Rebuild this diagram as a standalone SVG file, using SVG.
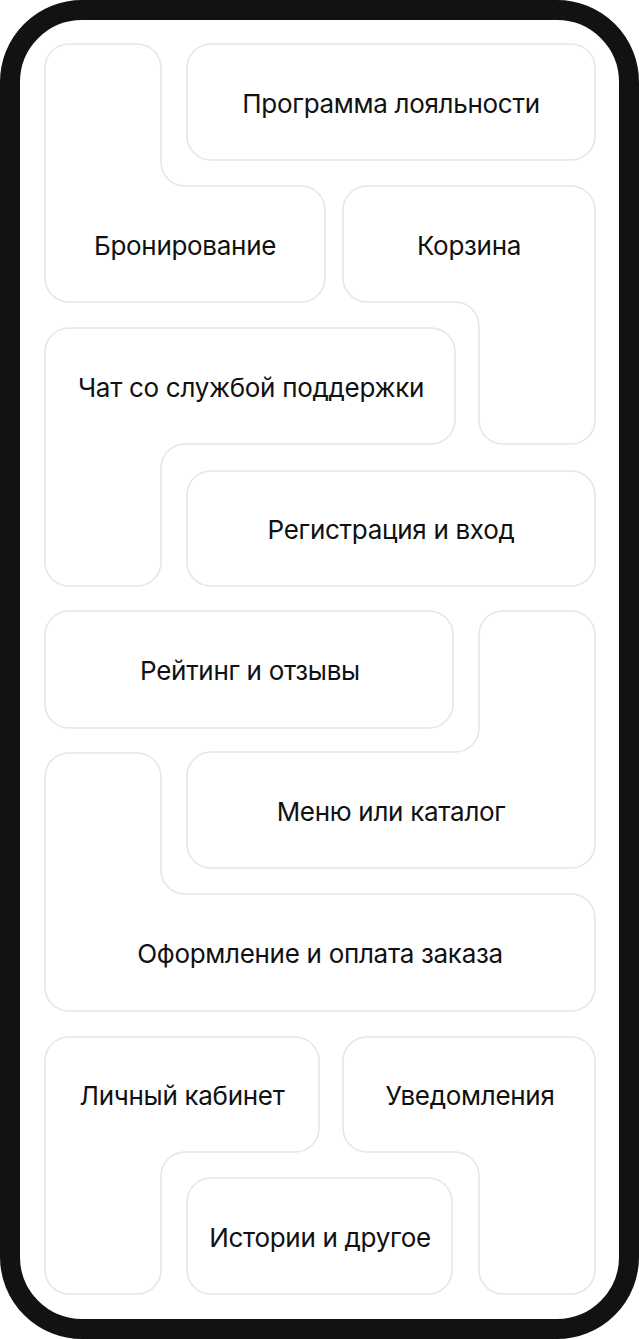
<svg xmlns="http://www.w3.org/2000/svg" width="639" height="1339" viewBox="0 0 639 1339">
<style>
.n{fill:#fff;stroke:#e3e7eb;stroke-width:1.6}
.t{font-family:Inter,"Noto Sans","Liberation Sans",sans-serif;font-size:26px;fill:#111;text-anchor:middle;letter-spacing:-0.3px}
</style>
<rect width="639" height="1339" fill="#fff"/>
<rect id="phone" x="10" y="10" width="619" height="1319" rx="72" fill="#fff" stroke="#121212" stroke-width="20"/>
<g id="connectors"></g>
<g id="loyalty"><rect class="n" x="187" y="44" width="408" height="116" rx="24"/><text class="t" x="391" y="113">Программа лояльности</text></g>
<g id="booking"><path class="n" d="M 69 44 H 137 A 24 24 0 0 1 161 68 V 162 A 24 24 0 0 0 185 186 H 301 A 24 24 0 0 1 325 210 V 278 A 24 24 0 0 1 301 302 H 69 A 24 24 0 0 1 45 278 V 68 A 24 24 0 0 1 69 44 Z"/><text class="t" x="185" y="255">Бронирование</text></g>
<g id="cart"><path class="n" d="M 367 186 H 571 A 24 24 0 0 1 595 210 V 420 A 24 24 0 0 1 571 444 H 503 A 24 24 0 0 1 479 420 V 326 A 24 24 0 0 0 455 302 H 367 A 24 24 0 0 1 343 278 V 210 A 24 24 0 0 1 367 186 Z"/><text class="t" x="469" y="255">Корзина</text></g>
<g id="chat"><path class="n" d="M 69 328 H 431 A 24 24 0 0 1 455 352 V 420 A 24 24 0 0 1 431 444 H 185 A 24 24 0 0 0 161 468 V 562 A 24 24 0 0 1 137 586 H 69 A 24 24 0 0 1 45 562 V 352 A 24 24 0 0 1 69 328 Z"/><text class="t" x="251" y="397">Чат со службой поддержки</text></g>
<g id="register"><rect class="n" x="187" y="471" width="408" height="115" rx="24"/><text class="t" x="391" y="539">Регистрация и вход</text></g>
<g id="rating"><rect class="n" x="45" y="611" width="408" height="117" rx="24"/><text class="t" x="250" y="680">Рейтинг и отзывы</text></g>
<g id="menu"><path class="n" d="M 503 611 H 571 A 24 24 0 0 1 595 635 V 844 A 24 24 0 0 1 571 868 H 211 A 24 24 0 0 1 187 844 V 776 A 24 24 0 0 1 211 752 H 455 A 24 24 0 0 0 479 728 V 635 A 24 24 0 0 1 503 611 Z"/><text class="t" x="391" y="821">Меню или каталог</text></g>
<g id="checkout"><path class="n" d="M 69 753 H 137 A 24 24 0 0 1 161 777 V 870 A 24 24 0 0 0 185 894 H 571 A 24 24 0 0 1 595 918 V 987 A 24 24 0 0 1 571 1011 H 69 A 24 24 0 0 1 45 987 V 777 A 24 24 0 0 1 69 753 Z"/><text class="t" x="320" y="963">Оформление и оплата заказа</text></g>
<g id="account"><path class="n" d="M 69 1037 H 295 A 24 24 0 0 1 319 1061 V 1128 A 24 24 0 0 1 295 1152 H 185 A 24 24 0 0 0 161 1176 V 1270 A 24 24 0 0 1 137 1294 H 69 A 24 24 0 0 1 45 1270 V 1061 A 24 24 0 0 1 69 1037 Z"/><text class="t" x="182" y="1105">Личный кабинет</text></g>
<g id="notifications"><path class="n" d="M 367 1037 H 571 A 24 24 0 0 1 595 1061 V 1270 A 24 24 0 0 1 571 1294 H 503 A 24 24 0 0 1 479 1270 V 1176 A 24 24 0 0 0 455 1152 H 367 A 24 24 0 0 1 343 1128 V 1061 A 24 24 0 0 1 367 1037 Z"/><text class="t" x="470" y="1105">Уведомления</text></g>
<g id="stories"><rect class="n" x="187" y="1178" width="265" height="116" rx="24"/><text class="t" x="320" y="1247">Истории и другое</text></g>
</svg>
